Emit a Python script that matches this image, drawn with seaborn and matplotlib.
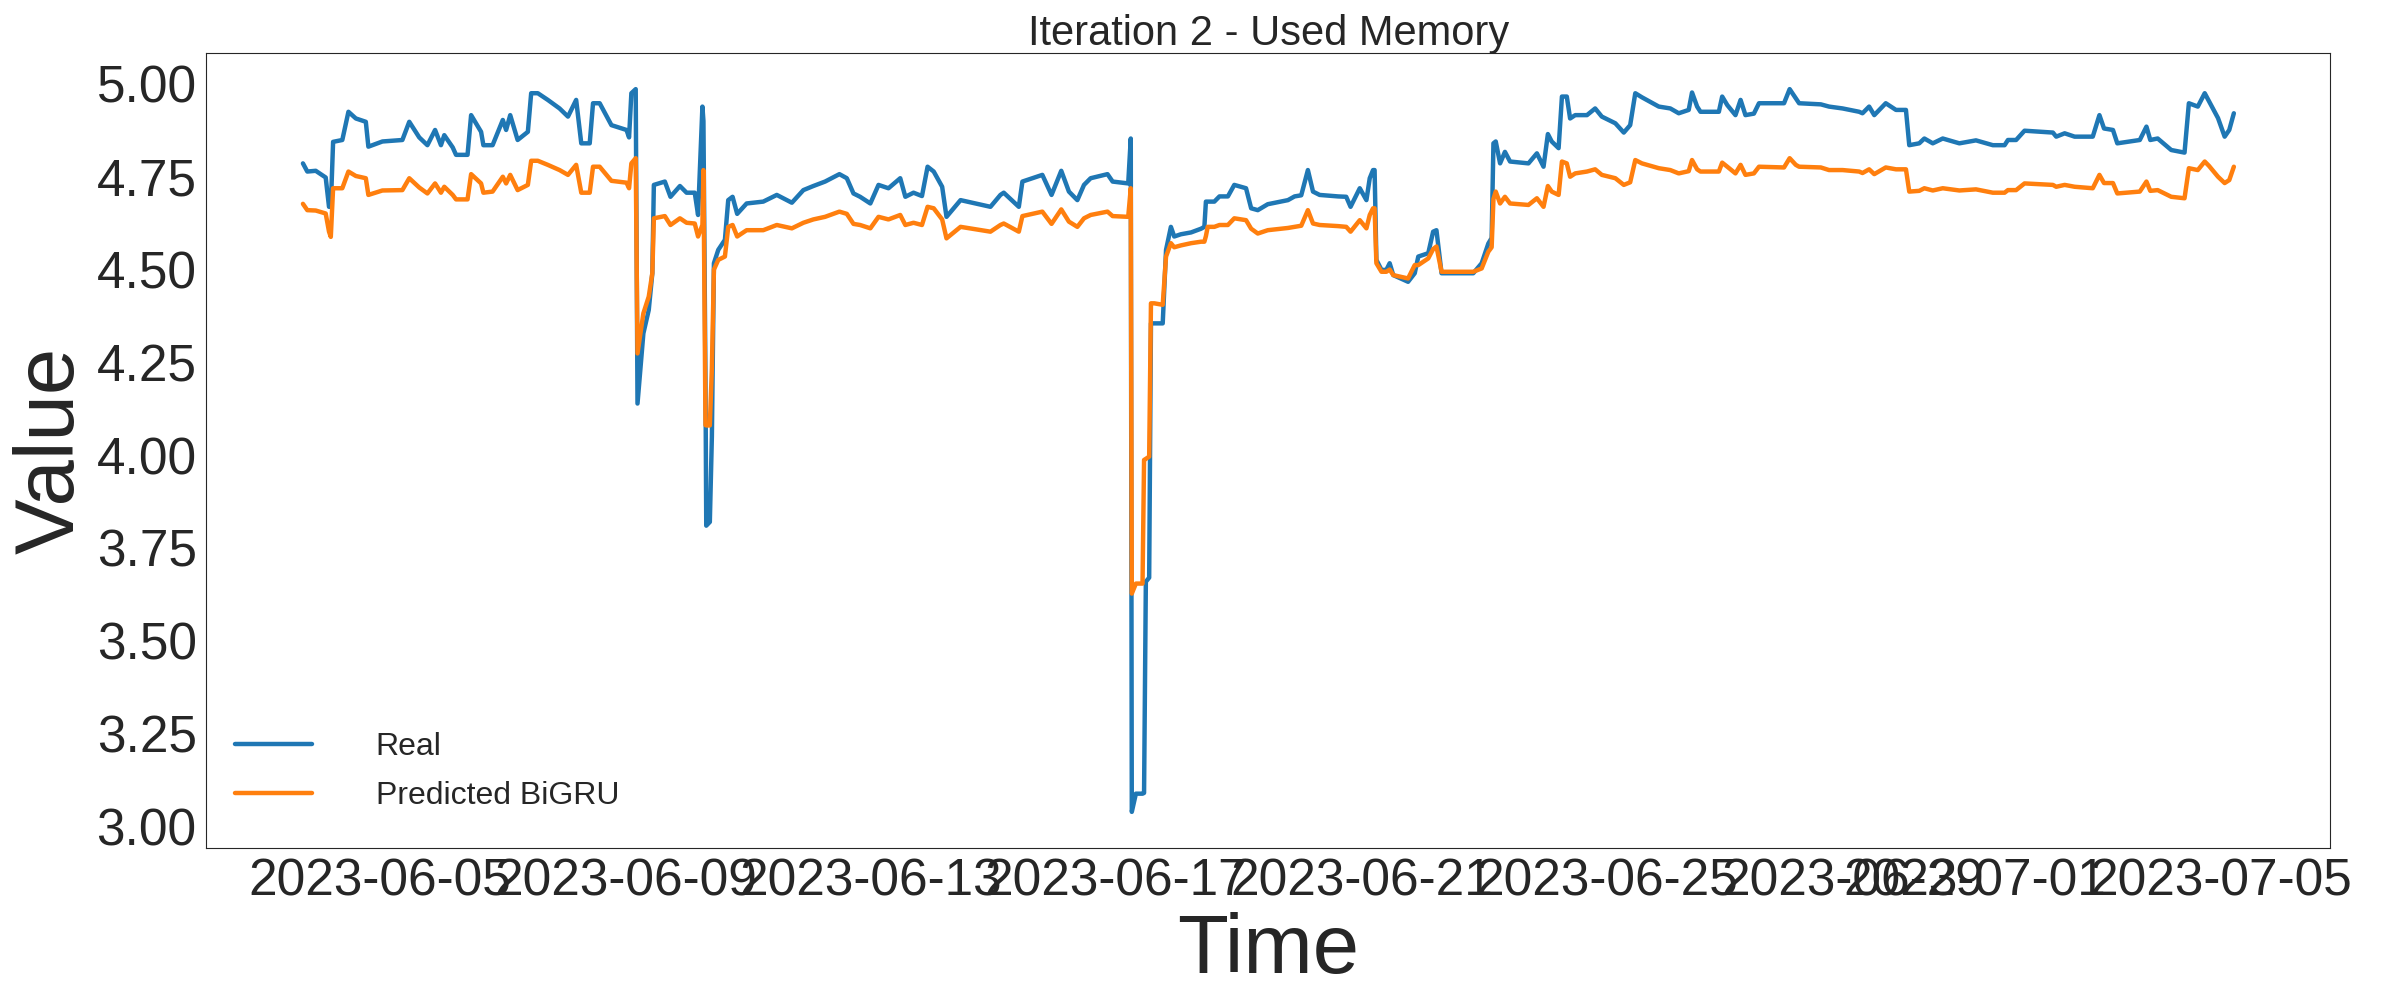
import numpy as np
import pandas as pd
import seaborn as sns
import matplotlib
matplotlib.use("Agg")
import matplotlib.pyplot as plt
from matplotlib.ticker import MultipleLocator, FormatStrFormatter

# hours after 2023-06-05 00:00
hours = [-30.2, -28.5, -25.2, -21.3, -20.0, -19.3, -18.4, -14.8, -12.4, -9.5,
         -5.6, -4.6, 0.9, 8.7, 11.4, 15.3, 18.5, 21.5, 23.8, 25.1,
         28.4, 29.7, 34.2, 35.6, 39.5, 40.4, 44.0, 48.0, 49.3, 50.9,
         53.8, 57.8, 59.1, 61.7, 65.6, 70.2, 73.5, 76.7, 78.7, 82.0,
         83.3, 85.9, 90.5, 96.4, 97.4, 98.3, 100.0, 100.7, 103.0, 105.1,
         106.5, 107.1, 111.4, 113.6, 117.3, 119.9, 123.1, 124.4, 126.1, 126.5,
         127.3, 127.6, 129.0, 129.8, 130.6, 132.3, 134.9, 136.2, 137.9, 139.7,
         143.4, 149.9, 155.2, 161.1, 165.6, 169.5, 174.1, 179.7, 182.6, 185.2,
         187.8, 191.8, 195.0, 198.9, 203.5, 205.5, 208.7, 212.0, 214.2, 216.6,
         219.9, 221.6, 227.1, 238.8, 242.7, 244.0, 249.9, 251.3, 259.1, 262.7,
         266.5, 269.5, 272.8, 275.4, 278.0, 284.6, 286.6, 292.7, 293.7, 294.1,
         295.7, 298.3, 298.9, 299.6, 300.9, 301.6, 302.9, 306.2, 307.5, 309.4,
         310.7, 313.3, 317.3, 321.2, 322.5, 323.1, 323.8, 326.4, 328.4, 331.7,
         334.2, 338.8, 340.8, 343.4, 347.3, 355.2, 357.8, 360.4, 363.0, 365.0,
         367.6, 374.8, 378.0, 379.7, 383.3, 385.9, 387.2, 388.5, 389.1, 389.8,
         391.8, 393.7, 395.0, 396.4, 402.2, 404.8, 406.2, 410.1, 412.0, 413.3,
         415.3, 427.7, 431.0, 433.6, 434.9, 435.6, 436.5, 438.2, 440.1, 442.1,
         449.3, 452.6, 455.2, 456.9, 458.4, 461.1, 462.4, 464.3, 465.6, 467.6,
         472.2, 475.4, 478.0, 483.3, 486.6, 489.1, 491.1, 493.7, 500.3, 504.8,
         508.1, 512.0, 513.3, 515.3, 516.6, 523.8, 525.1, 527.1, 530.3, 532.3,
         534.2, 537.5, 539.5, 549.3, 551.5, 553.9, 555.2, 563.7, 566.9, 572.2,
         578.7, 580.0, 582.6, 584.6, 589.1, 593.1, 597.0, 598.3, 602.2, 604.2,
         607.5, 611.4, 617.9, 624.4, 631.0, 635.6, 636.9, 640.1, 643.4, 654.5,
         655.8, 659.1, 663.0, 670.1, 672.7, 674.5, 678.0, 679.7, 688.5, 691.1,
         692.6, 695.5, 700.8, 706.0, 707.7, 711.2, 713.9, 715.6, 719.1, 721.7,
         723.5, 725.3]

real = [4.786, 4.764, 4.766, 4.748, 4.669, 4.669, 4.844, 4.849, 4.925, 4.907,
        4.898, 4.831, 4.845, 4.849, 4.898, 4.856, 4.835, 4.876, 4.835, 4.862,
        4.829, 4.809, 4.809, 4.916, 4.871, 4.835, 4.835, 4.903, 4.876, 4.916,
        4.849, 4.871, 4.975, 4.975, 4.957, 4.934, 4.912, 4.957, 4.840, 4.840,
        4.948, 4.948, 4.889, 4.876, 4.856, 4.975, 4.986, 4.139, 4.328, 4.391,
        4.490, 4.728, 4.737, 4.696, 4.725, 4.707, 4.707, 4.647, 4.939, 4.900,
        4.200, 3.810, 3.820, 4.050, 4.517, 4.553, 4.580, 4.687, 4.696, 4.650,
        4.678, 4.683, 4.701, 4.680, 4.714, 4.725, 4.737, 4.757, 4.746, 4.705,
        4.696, 4.678, 4.728, 4.719, 4.746, 4.696, 4.707, 4.698, 4.777, 4.764,
        4.723, 4.642, 4.687, 4.669, 4.701, 4.707, 4.669, 4.737, 4.755, 4.701,
        4.766, 4.710, 4.687, 4.728, 4.746, 4.757, 4.737, 4.732, 4.853, 3.039,
        3.088, 3.088, 3.090, 3.659, 3.670, 4.355, 4.355, 4.355, 4.553, 4.615,
        4.589, 4.595, 4.600, 4.610, 4.615, 4.683, 4.683, 4.683, 4.697, 4.697,
        4.728, 4.719, 4.665, 4.660, 4.676, 4.687, 4.697, 4.700, 4.768, 4.710,
        4.701, 4.697, 4.696, 4.669, 4.719, 4.687, 4.746, 4.768, 4.768, 4.526,
        4.499, 4.499, 4.517, 4.485, 4.467, 4.490, 4.535, 4.544, 4.602, 4.606,
        4.490, 4.490, 4.517, 4.570, 4.585, 4.840, 4.845, 4.786, 4.817, 4.791,
        4.786, 4.813, 4.777, 4.865, 4.845, 4.827, 4.966, 4.966, 4.907, 4.916,
        4.916, 4.934, 4.912, 4.894, 4.869, 4.889, 4.975, 4.964, 4.939, 4.934,
        4.921, 4.930, 4.977, 4.939, 4.925, 4.925, 4.966, 4.943, 4.916, 4.957,
        4.916, 4.920, 4.948, 4.948, 4.986, 4.961, 4.948, 4.945, 4.939, 4.934,
        4.925, 4.921, 4.939, 4.916, 4.948, 4.930, 4.930, 4.835, 4.840, 4.853,
        4.840, 4.853, 4.840, 4.848, 4.835, 4.835, 4.849, 4.849, 4.874, 4.869,
        4.858, 4.867, 4.858, 4.858, 4.916, 4.880, 4.876, 4.840, 4.849, 4.885,
        4.849, 4.853, 4.822, 4.815, 4.948, 4.939, 4.975, 4.953, 4.908, 4.858,
        4.876, 4.921]

predicted = [4.677, 4.660, 4.659, 4.651, 4.602, 4.588, 4.719, 4.719, 4.764, 4.752,
             4.746, 4.701, 4.713, 4.714, 4.746, 4.721, 4.705, 4.732, 4.707, 4.723,
             4.701, 4.689, 4.689, 4.757, 4.732, 4.707, 4.710, 4.750, 4.732, 4.755,
             4.714, 4.728, 4.793, 4.793, 4.782, 4.768, 4.755, 4.782, 4.707, 4.707,
             4.777, 4.777, 4.739, 4.734, 4.719, 4.786, 4.800, 4.274, 4.382, 4.427,
             4.490, 4.638, 4.644, 4.620, 4.638, 4.626, 4.624, 4.589, 4.620, 4.768,
             4.081, 4.080, 4.080, 4.234, 4.500, 4.526, 4.535, 4.615, 4.620, 4.589,
             4.606, 4.606, 4.620, 4.611, 4.626, 4.635, 4.642, 4.656, 4.650, 4.623,
             4.620, 4.611, 4.642, 4.635, 4.647, 4.620, 4.626, 4.620, 4.669, 4.665,
             4.635, 4.584, 4.615, 4.602, 4.620, 4.624, 4.602, 4.644, 4.656, 4.623,
             4.662, 4.629, 4.615, 4.638, 4.647, 4.656, 4.644, 4.642, 4.719, 3.627,
             3.654, 3.654, 3.987, 3.990, 3.996, 4.409, 4.409, 4.405, 4.535, 4.571,
             4.560, 4.565, 4.571, 4.575, 4.575, 4.590, 4.615, 4.615, 4.620, 4.620,
             4.638, 4.633, 4.610, 4.597, 4.606, 4.612, 4.615, 4.618, 4.660, 4.624,
             4.620, 4.617, 4.615, 4.602, 4.633, 4.611, 4.647, 4.665, 4.665, 4.517,
             4.494, 4.494, 4.500, 4.485, 4.476, 4.512, 4.512, 4.530, 4.555, 4.562,
             4.494, 4.494, 4.503, 4.548, 4.560, 4.690, 4.710, 4.678, 4.696, 4.678,
             4.674, 4.692, 4.669, 4.725, 4.710, 4.701, 4.791, 4.786, 4.750, 4.759,
             4.764, 4.770, 4.755, 4.746, 4.728, 4.735, 4.795, 4.786, 4.773, 4.768,
             4.759, 4.765, 4.795, 4.770, 4.764, 4.764, 4.788, 4.777, 4.759, 4.782,
             4.755, 4.759, 4.777, 4.775, 4.800, 4.782, 4.777, 4.775, 4.768, 4.768,
             4.764, 4.760, 4.770, 4.757, 4.775, 4.770, 4.770, 4.710, 4.712, 4.719,
             4.713, 4.719, 4.713, 4.716, 4.707, 4.707, 4.714, 4.714, 4.732, 4.728,
             4.723, 4.728, 4.723, 4.719, 4.755, 4.733, 4.733, 4.705, 4.710, 4.737,
             4.712, 4.714, 4.696, 4.692, 4.773, 4.768, 4.791, 4.779, 4.750, 4.733,
             4.741, 4.777]

times = pd.Timestamp("2023-06-05") + pd.to_timedelta(hours, unit="h")

sns.set_style("white")
plt.rcParams['font.family'] = ['Liberation Sans', 'DejaVu Sans']

fig, ax = plt.subplots(figsize=(24, 10), dpi=100)
fig.subplots_adjust(left=0.086, right=0.971, top=0.947, bottom=0.152)

sns.lineplot(x=times, y=real, ax=ax, color="#1f77b4", linewidth=3.2, label="Real")
sns.lineplot(x=times, y=predicted, ax=ax, color="#ff7f0e", linewidth=3.2, label="Predicted BiGRU")

ax.set_title("Iteration 2 - Used Memory", fontsize=30)
ax.set_xlabel("Time", fontsize=60)
ax.set_ylabel("Value", fontsize=60)
ax.yaxis.set_major_locator(MultipleLocator(0.25))
ax.yaxis.set_major_formatter(FormatStrFormatter("%.2f"))
ax.tick_params(axis="both", labelsize=37)
ax.legend(loc="lower left", fontsize=23, frameon=False,
          handlelength=2.4, handletextpad=2.0, labelspacing=0.6,
          bbox_to_anchor=(0.0, 0.01))

plt.savefig("out.png", dpi=100)
